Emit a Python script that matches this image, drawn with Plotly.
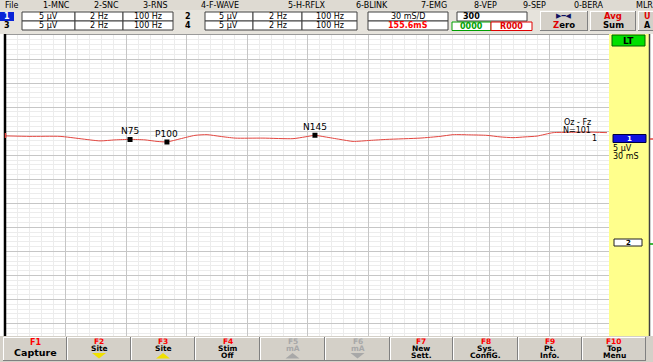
import numpy as np
import plotly.graph_objects as go

W, H = 653, 362

# Channel 1 (Oz - Fz) averaged response: latency (ms) and amplitude (µV)
t_ms = [0, 12.4, 27.3, 37.2, 47.1, 54.5, 62.0, 69.4, 75.4, 80.3, 86.8, 94.2,
        100.2, 106.6, 114.1, 127.9, 142.8, 148.8, 153.7, 158.7, 166.1, 172.6,
        181.0, 189.4, 205.8, 215.7, 222.2, 230.6, 239.0, 245.5, 251.9, 257.9,
        263.8, 271.8, 280.2, 288.6, 298.5]
amp_uv = [0.52, 0.42, 0.42, -0.06, -0.52, -0.31, -0.21, -0.31, -0.63, -0.73,
          -0.10, 0.63, 0.77, 0.42, 0.06, 0.06, -0.06, 0.31, 0.63, 0.31, -0.21,
          -0.63, -0.42, -0.21, 0.06, 0.42, 0.77, 0.73, 0.63, 0.31, 0.15, 0.31,
          0.48, 1.19, 1.25, 1.31, 1.19]

# Marked peaks
peak_names = ["N75", "P100", "N145"]
peak_ms = [62.0, 80.3, 153.7]

# Menu and function-key text
menu_items = ["File", "1-MNC", "2-SNC", "3-RNS", "4-F-WAVE", "5-H-RFLX",
              "6-BLINK", "7-EMG", "8-VEP", "9-SEP", "0-BERA", "MLR"]
menu_x = [4, 42, 93, 142, 200, 287, 355, 420, 473, 522, 573, 635]
fkeys = ["F1", "F2", "F3", "F4", "F5", "F6", "F7", "F8", "F9", "F10"]
fkey_text = [["Capture"], ["Site"], ["Site"], ["Stim", "Off"], ["mA"], ["mA"],
             ["New", "Sett."], ["Sys.", "ConfiG."], ["Pt.", "Info."], ["Top", "Menu"]]
fkey_enabled = [True, True, True, True, False, False, True, True, True, True]

sens_uv = 5          # µV per division
sweep_ms = 30        # ms per division
n_avg = 101
ch1_base = -21.5     # channel 1 baseline (µV below top of screen)

FONT = "DejaVu Sans"
GRAY = "#d4d0c8"

shapes = []
anns = []


def px(x):
    return x / W


def py(y):
    return 1 - y / H


def rect(x0, y0, x1, y1, fill, line=None, lw=0):
    shapes.append(dict(type="rect", xref="paper", yref="paper",
                       x0=px(x0), x1=px(x1), y0=py(y1), y1=py(y0),
                       fillcolor=fill, layer="above",
                       line=dict(color=line or fill, width=lw)))


def hline(x0, x1, y, color, lw=1):
    shapes.append(dict(type="line", xref="paper", yref="paper",
                       x0=px(x0), x1=px(x1), y0=py(y), y1=py(y),
                       layer="above", line=dict(color=color, width=lw)))


def vline(x, y0, y1, color, lw=1):
    shapes.append(dict(type="line", xref="paper", yref="paper",
                       x0=px(x), x1=px(x), y0=py(y0), y1=py(y1),
                       layer="above", line=dict(color=color, width=lw)))


def button(x0, y0, x1, y1, fill=GRAY):
    rect(x0, y0, x1, y1, fill)
    hline(x0, x1, y0 + 0.5, "white")
    vline(x0 + 0.5, y0, y1, "white")
    hline(x0, x1, y1 - 0.5, "#808080")
    vline(x1 - 0.5, y0, y1, "#808080")


def txt(x, y, s, size=9, color="black", bold=False, xanchor="center"):
    anns.append(dict(x=px(x), y=py(y), xref="paper", yref="paper", text=s,
                     showarrow=False, xanchor=xanchor, yanchor="middle",
                     borderpad=0,
                     font=dict(size=size, color=color, family=FONT,
                               weight="bold" if bold else "normal")))


def triangle(xc, ytop, ybot, up, color):
    base, tip = (ybot, ytop) if up else (ytop, ybot)
    shapes.append(dict(
        type="path", xref="paper", yref="paper", layer="above",
        path=(f"M {px(xc - 7)} {py(base)} L {px(xc + 7)} {py(base)} "
              f"L {px(xc)} {py(tip)} Z"),
        fillcolor=color, line=dict(color=color, width=0)))


fig = go.Figure()

# averaged waveform
fig.add_trace(go.Scatter(
    x=t_ms, y=[ch1_base + a for a in amp_uv], mode="lines",
    line=dict(color="#e2453f", width=1, shape="spline", smoothing=0.6),
    hoverinfo="skip", showlegend=False))

# peak markers
peak_uv = [float(np.interp(t, t_ms, amp_uv)) for t in peak_ms]
fig.add_trace(go.Scatter(
    x=peak_ms, y=[ch1_base + a for a in peak_uv], mode="markers",
    marker=dict(symbol="square", size=5, color="black",
                line=dict(color="black", width=0)),
    hoverinfo="skip", showlegend=False))
for name, t, a in zip(peak_names, peak_ms, peak_uv):
    anns.append(dict(x=t, y=ch1_base + a, xref="x", yref="y", text=name,
                     showarrow=False, yshift=8, xanchor="center",
                     yanchor="middle",
                     font=dict(size=9, color="black", family=FONT)))

# ---- top menu and settings strip ----
rect(0, 0, W, 34, "#e6e3dc")
rect(0, 0, W, 10, "#dedad2")
for item, x in zip(menu_items, menu_x):
    txt(x, 5.5, item, size=8, xanchor="left")

# channel setting rows
for row, (ch_a, ch_b) in enumerate([("1", "2"), ("3", "4")]):
    y0 = 12 + row * 9
    y1 = y0 + 9
    yc = y0 + 4.5
    if row == 0:
        rect(0, y0, 14, y1, "#0a24d8")
        txt(7, yc, ch_a, size=8, color="white", bold=True)
    else:
        txt(7, yc, ch_a, size=8, bold=True)
    for xa, xb, s in [(22, 75, "5 µV"), (75, 123, "2 Hz"), (123, 173, "100 Hz")]:
        rect(xa, y0, xb, y1, "white", "#404040", 1)
        txt((xa + xb) / 2, yc, s, size=8)
    txt(188, yc, ch_b, size=8, bold=True)
    for xa, xb, s in [(205, 253, "5 µV"), (253, 302, "2 Hz"), (302, 357, "100 Hz")]:
        rect(xa, y0, xb, y1, "white", "#404040", 1)
        txt((xa + xb) / 2, yc, s, size=8)

rect(368, 12, 448, 21, "white", "#404040", 1)
txt(408, 16.5, f"{sweep_ms} mS/D", size=8)
rect(368, 21, 448, 30, "white", "#404040", 1)
txt(408, 25.5, "155.6mS", size=8, color="#ff0000", bold=True)
rect(457, 12, 527, 21, "white", "#404040", 1)
txt(462, 16.5, "300", size=8, bold=True, xanchor="left")
rect(452, 22, 491, 30.5, "white", "#00a000", 1)
txt(471.5, 26.3, "0000", size=8, color="#00a000", bold=True)
rect(491, 22, 532, 30.5, "white", "#e00000", 1)
txt(511.5, 26.3, "R000", size=8, color="#e00000", bold=True)

button(540, 11, 588, 31)
txt(564, 16, "▶━◀", size=7, color="#101060")
txt(564, 25.5, "<span style='color:#e00000'>Z</span>ero", size=8.5, bold=True)
button(590, 11, 636, 31)
txt(613, 16.5, "Avg", size=8.5, color="#e00000", bold=True)
txt(613, 25.5, "Sum", size=8.5, bold=True)
button(638, 11, 660, 31)
txt(643, 16.5, "U", size=8, color="#e00000", bold=True, xanchor="left")
txt(643, 25.5, "A", size=8, bold=True, xanchor="left")

# ---- chart frame ----
hline(5, 609, 34.5, "#9a9a9a")
vline(5, 34, 337, "black", 2.5)

# right-hand channel panel
rect(609, 34, 649, 337, "#ffff8c")
vline(649.5, 34, 337, "#404040", 1.5)
rect(612, 35, 645, 46, "#00e000", "#006000", 1)
txt(628.5, 40.5, "LT", size=9, bold=True)
rect(613, 134.5, 646, 142.5, "#1010e0", "#000040", 1)
txt(629.5, 138.5, "1", size=7, color="white", bold=True)
txt(612, 148, f"{sens_uv} µV", size=8, xanchor="left")
txt(612, 156, f"{sweep_ms} mS", size=8, xanchor="left")
rect(614, 239, 642, 246, "white", "#202020", 1)
txt(628, 242.5, "2", size=7, bold=True)
hline(650, 653, 139, "#e2453f", 1.5)
hline(650, 653, 244, "#00a000", 1.5)
vline(5.5, 133, 138, "#e2453f", 1.5)

txt(577, 122, "Oz - Fz", size=8)
txt(577, 130, f"N={n_avg}", size=8)
txt(594, 138.5, "1", size=8)

# ---- function key bar ----
rect(0, 336, W, H, GRAY)
edges = [3, 67, 131, 195, 260, 325, 390, 453, 518, 582, 646]
for i, key in enumerate(fkeys):
    x0, x1 = edges[i], edges[i + 1]
    xc = (x0 + x1) / 2
    button(x0, 337, x1, 361)
    on = fkey_enabled[i]
    kc = "#ff0000" if on else "#a8a8a8"
    lc = "black" if on else "#a8a8a8"
    lines = fkey_text[i]
    if len(lines) == 2:
        txt(xc, 341.5, key, size=7.5, color=kc, bold=True)
        txt(xc, 348.5, lines[0], size=7.5, color=lc, bold=True)
        txt(xc, 355.5, lines[1], size=7.5, color=lc, bold=True)
    elif key in ("F2", "F3", "F5", "F6"):
        txt(xc, 341.5, key, size=7.5, color=kc, bold=True)
        txt(xc, 348, lines[0], size=7.5, color=lc, bold=True)
        tri = "#f0e000" if on else "#a8a8a8"
        triangle(xc, 353, 358.5, key in ("F3", "F5"), tri)
    else:
        txt(xc, 342, key, size=8, color=kc, bold=True)
        txt(xc, 352, lines[0], size=9.5, color=lc, bold=True)

fig.update_layout(
    width=W, height=H, margin=dict(l=0, r=0, t=0, b=0),
    paper_bgcolor="white", plot_bgcolor="white",
    xaxis=dict(domain=[px(5), px(610)], range=[0, 10 * sweep_ms],
               dtick=sweep_ms, tick0=0, showgrid=True, gridcolor="#c6c6c6",
               gridwidth=1, minor=dict(dtick=sweep_ms / 5, showgrid=True,
                                       gridcolor="#ececec", gridwidth=1),
               showticklabels=False, ticks="", zeroline=False,
               showline=False, fixedrange=True),
    yaxis=dict(domain=[py(336.5), py(35)], range=[-62.7, 0],
               dtick=sens_uv, tick0=0, showgrid=True, gridcolor="#c6c6c6",
               gridwidth=1, minor=dict(dtick=sens_uv / 5, showgrid=True,
                                       gridcolor="#ececec", gridwidth=1),
               showticklabels=False, ticks="", zeroline=False,
               showline=False, fixedrange=True),
    shapes=shapes, annotations=anns, showlegend=False,
)

fig.write_html("out.html")
